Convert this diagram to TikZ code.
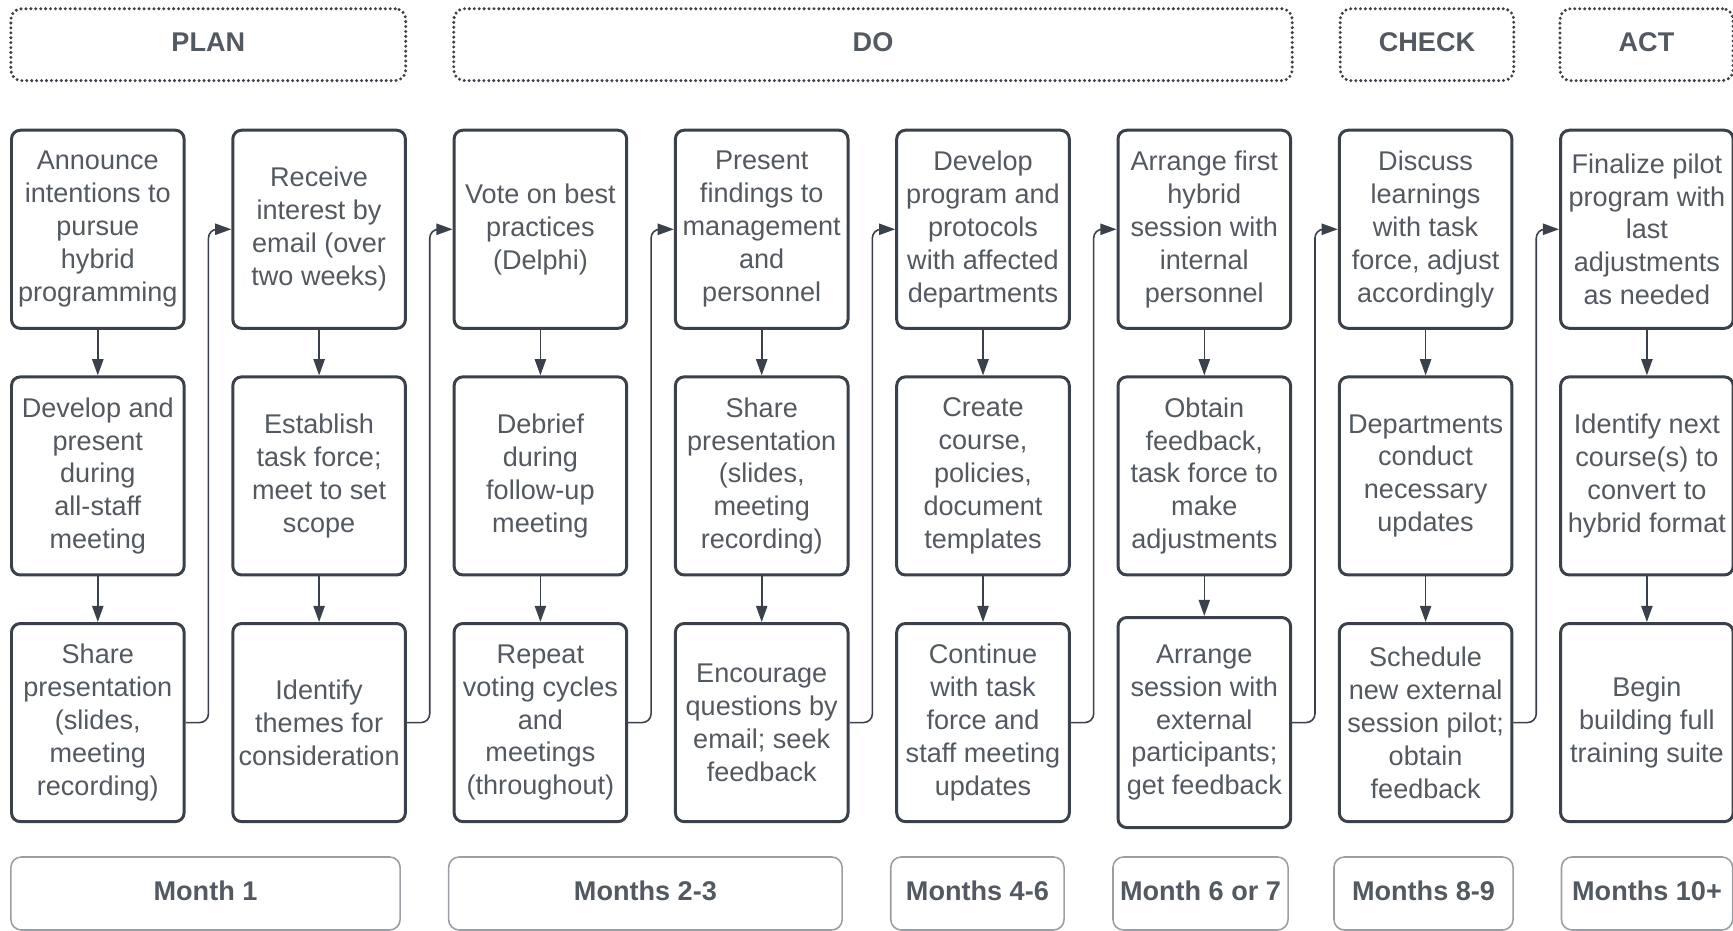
\documentclass[tikz,border=0pt]{standalone}
\usepackage{fontspec}
\setmainfont{Liberation Sans}
\usetikzlibrary{arrows.meta,calc}

\definecolor{boxline}{HTML}{3A414A}
\definecolor{txtgray}{HTML}{535961}
\definecolor{periodline}{HTML}{9A9FA5}

\begin{document}
\begin{tikzpicture}[x=0.01cm,y=0.01cm,node distance=2.465cm,
every node/.style={font=\fontsize{7.7}{9.36}\selectfont, text=txtgray, align=center},
stepbox/.style={draw=boxline, line width=0.85pt, rounded corners=2.5pt, minimum width=1.725cm, minimum height=1.98cm, inner sep=1pt},
phase/.style={draw=boxline, line width=0.95pt, line cap=round, dash pattern=on 0pt off 1.4pt, rounded corners=3pt, minimum height=0.718cm, text height=5.6pt, text depth=1.6pt, font=\fontsize{7.7}{9.36}\selectfont\bfseries},
period/.style={draw=periodline, line width=0.45pt, rounded corners=3pt, minimum height=0.73cm, inner sep=1pt, text height=5.6pt, text depth=1.8pt, font=\fontsize{7.7}{9.36}\selectfont\bfseries},
down/.style={draw=boxline, line width=0.45pt, -{Triangle[length=4.6pt,width=3.2pt]}},
link/.style={down, rounded corners=2.5pt}]
\useasboundingbox (0,0) rectangle (1733,931);

% phases
\node[phase, minimum width=3.946cm] (plan) at (208.3,886.3) {PLAN};
\node[phase, minimum width=8.38cm] (do) at (873,886.3) {DO};
\node[phase, minimum width=1.735cm] (check) at (1427,886.3) {CHECK};
\node[phase, minimum width=1.73cm] (act) at (1646.5,886.3) {ACT};

% steps, column by column
\node[stepbox] (a1) at (97.8,701.7) {Announce\\intentions to\\pursue\\hybrid\\programming};
\node[stepbox, below of=a1] (a2) {Develop and\\present\\during\\all-staff\\meeting};
\node[stepbox, below of=a2] (a3) {Share\\presentation\\(slides,\\meeting\\recording)};

\node[stepbox] (b1) at (319.1,701.7) {Receive\\interest by\\email (over\\two weeks)};
\node[stepbox, below of=b1] (b2) {Establish\\task force;\\meet to set\\scope};
\node[stepbox, below of=b2] (b3) {Identify\\themes for\\consideration};

\node[stepbox] (c1) at (540.4,701.7) {Vote on best\\practices\\(Delphi)};
\node[stepbox, below of=c1] (c2) {Debrief\\during\\follow-up\\meeting};
\node[stepbox, below of=c2] (c3) {Repeat\\voting cycles\\and\\meetings\\(throughout)};

\node[stepbox] (d1) at (761.7,701.7) {Present\\findings to\\management\\and\\personnel};
\node[stepbox, below of=d1] (d2) {Share\\presentation\\(slides,\\meeting\\recording)};
\node[stepbox, below of=d2] (d3) {Encourage\\questions by\\email; seek\\feedback};

\node[stepbox] (e1) at (983.0,701.7) {Develop\\program and\\protocols\\with affected\\departments};
\node[stepbox, below of=e1] (e2) {Create\\course,\\policies,\\document\\templates};
\node[stepbox, below of=e2] (e3) {Continue\\with task\\force and\\staff meeting\\updates};

\node[stepbox] (f1) at (1204.3,701.7) {Arrange first\\hybrid\\session with\\internal\\personnel};
\node[stepbox, below of=f1] (f2) {Obtain\\feedback,\\task force to\\make\\adjustments};
\node[stepbox, below of=f2, minimum height=2.1cm] (f3) {Arrange\\session with\\external\\participants;\\get feedback};

\node[stepbox] (g1) at (1425.6,701.7) {Discuss\\learnings\\with task\\force, adjust\\accordingly};
\node[stepbox, below of=g1] (g2) {Departments\\conduct\\necessary\\updates};
\node[stepbox, below of=g2] (g3) {Schedule\\new external\\session pilot;\\obtain\\feedback};

\node[stepbox] (h1) at (1646.9,701.7) {Finalize pilot\\program with\\last\\adjustments\\as needed};
\node[stepbox, below of=h1] (h2) {Identify next\\course(s) to\\convert to\\hybrid format};
\node[stepbox, below of=h2] (h3) {Begin\\building full\\training suite};

% periods
\node[period, minimum width=3.89cm] (m1) at (205.5,37.5) {Month 1};
\node[period, minimum width=3.933cm] (m2) at (645.4,37.5) {Months 2-3};
\node[period, minimum width=1.732cm] (m3) at (977.4,37.5) {Months 4-6};
\node[period, minimum width=1.75cm] (m4) at (1200.5,37.5) {Month 6 or 7};
\node[period, minimum width=1.79cm] (m5) at (1423.5,37.5) {Months 8-9};
\node[period, minimum width=1.71cm] (m6) at (1647,37.5) {Months 10+};

% arrows down each column
\draw[down] (a1) -- (a2); \draw[down] (a2) -- (a3);
\draw[down] (b1) -- (b2); \draw[down] (b2) -- (b3);
\draw[down] (c1) -- (c2); \draw[down] (c2) -- (c3);
\draw[down] (d1) -- (d2); \draw[down] (d2) -- (d3);
\draw[down] (e1) -- (e2); \draw[down] (e2) -- (e3);
\draw[down] (f1) -- (f2); \draw[down] (f2) -- (f3);
\draw[down] (g1) -- (g2); \draw[down] (g2) -- (g3);
\draw[down] (h1) -- (h2); \draw[down] (h2) -- (h3);

% links to the next column
\draw[link] (a3.east) -- ($(a3.east)!0.5!(b3.west)$) |- (b1.west);
\draw[link] (b3.east) -- ($(b3.east)!0.5!(c3.west)$) |- (c1.west);
\draw[link] (c3.east) -- ($(c3.east)!0.5!(d3.west)$) |- (d1.west);
\draw[link] (d3.east) -- ($(d3.east)!0.5!(e3.west)$) |- (e1.west);
\draw[link] (e3.east) -- ($(e3.east)!0.5!(f3.west)$) |- (f1.west);
\draw[link] (f3.east) -- ($(f3.east)!0.5!(g3.west)$) |- (g1.west);
\draw[link] (g3.east) -- ($(g3.east)!0.5!(h3.west)$) |- (h1.west);
\end{tikzpicture}
\end{document}
